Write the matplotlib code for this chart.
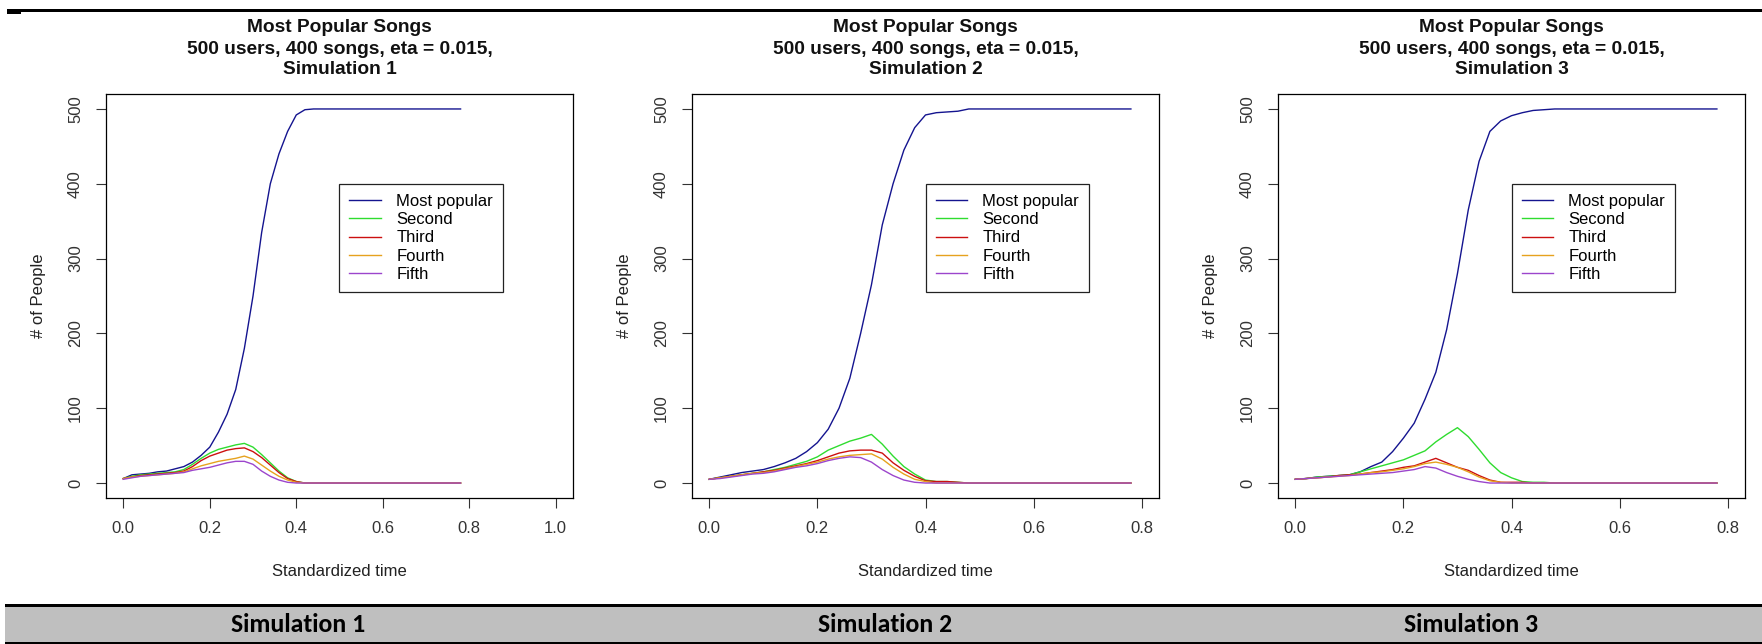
import matplotlib
matplotlib.use("Agg")
import matplotlib.pyplot as plt
from matplotlib import font_manager
from matplotlib.patches import Rectangle

# figure size in pixels
W, H = 1762, 644

# time grids (standardized time)
t1 = [0, .02, .04, .06, .08, .10, .12, .14, .16, .18, .20, .22, .24, .26, .28,
      .30, .32, .34, .36, .38, .40, .42, .44, .78]
t2 = [0, .02, .04, .06, .08, .10, .12, .14, .16, .18, .20, .22, .24, .26, .28,
      .30, .32, .34, .36, .38, .40, .42, .44, .46, .48, .78]
t3 = t2

# simulation 1
blue1 = [6, 11, 12, 13, 15, 16, 19, 22, 28, 37, 48, 68, 92, 125, 180, 250, 335, 400, 440, 470, 492, 499, 500, 500]
green1 = [6, 9, 11, 12, 13, 14, 15, 18, 25, 33, 40, 45, 48, 51, 53, 48, 38, 27, 16, 7, 2, 0, 0, 0]
red1 = [6, 8, 10, 11, 12, 13, 14, 16, 22, 30, 36, 40, 44, 46, 47, 42, 34, 24, 14, 6, 2, 0, 0, 0]
orange1 = [6, 8, 9, 10, 11, 12, 13, 15, 19, 23, 26, 29, 31, 33, 36, 32, 24, 16, 9, 4, 1, 0, 0, 0]
purple1 = [5, 7, 9, 10, 11, 12, 13, 14, 17, 19, 21, 24, 27, 29, 29, 25, 16, 9, 4, 1, 0, 0, 0, 0]

# simulation 2
blue2 = [5, 8, 11, 14, 16, 18, 22, 27, 33, 42, 54, 72, 100, 140, 200, 265, 345, 400, 445, 475, 492, 495, 496, 497, 500, 500]
green2 = [5, 7, 9, 11, 13, 15, 18, 21, 25, 29, 35, 44, 50, 56, 60, 65, 52, 36, 22, 12, 4, 2, 2, 1, 0, 0]
red2 = [5, 7, 9, 11, 13, 15, 17, 20, 23, 26, 30, 35, 40, 43, 44, 44, 40, 27, 17, 9, 3, 2, 2, 1, 0, 0]
orange2 = [5, 7, 9, 11, 13, 14, 16, 19, 22, 25, 28, 32, 35, 37, 38, 39, 32, 21, 12, 5, 2, 0, 0, 0, 0, 0]
purple2 = [5, 6, 8, 10, 12, 13, 15, 18, 21, 23, 26, 30, 33, 35, 34, 28, 18, 10, 4, 1, 0, 0, 0, 0, 0, 0]

# simulation 3
blue3 = [5, 6, 8, 9, 10, 11, 15, 22, 28, 42, 60, 80, 112, 148, 205, 280, 365, 430, 470, 484, 491, 495, 498, 499, 500, 500]
green3 = [5, 6, 8, 9, 10, 11, 15, 19, 23, 27, 31, 37, 43, 55, 65, 74, 62, 45, 27, 14, 7, 2, 1, 1, 0, 0]
red3 = [5, 6, 7, 8, 10, 11, 12, 14, 16, 18, 21, 23, 28, 33, 27, 21, 17, 10, 4, 1, 1, 1, 0, 0, 0, 0]
orange3 = [5, 6, 7, 8, 9, 10, 12, 14, 15, 17, 19, 22, 26, 28, 25, 21, 15, 8, 3, 1, 0, 0, 0, 0, 0, 0]
purple3 = [5, 6, 7, 8, 9, 10, 11, 12, 13, 14, 16, 18, 22, 20, 14, 9, 5, 2, 0, 0, 0, 0, 0, 0, 0, 0]

labels = ["Most popular", "Second", "Third", "Fourth", "Fifth"]
colors = ["#14148f", "#2fdc2f", "#cc1010", "#e6a21e", "#9c45cc"]
sims = ["Simulation 1", "Simulation 2", "Simulation 3"]
xticks_list = [[0.0, 0.2, 0.4, 0.6, 0.8, 1.0], [0.0, 0.2, 0.4, 0.6, 0.8], [0.0, 0.2, 0.4, 0.6, 0.8]]
xmax_list = [1.0, 0.8, 0.8]
legend_x = [0.5, 0.4, 0.4]

panels = [
    (t1, [blue1, green1, red1, orange1, purple1]),
    (t2, [blue2, green2, red2, orange2, purple2]),
    (t3, [blue3, green3, red3, orange3, purple3]),
]

names = {f.name for f in font_manager.fontManager.ttflist}
band_font = "Carlito" if "Carlito" in names else "Lato"

plt.rcParams["font.family"] = ["Liberation Sans", "DejaVu Sans"]
plt.rcParams["font.size"] = 12

fig = plt.figure(figsize=(W / 100, H / 100), dpi=100)


def box(x, y, w, h):
    # pixel box (top-left origin) -> figure fraction
    return [x / W, 1 - (y + h) / H, w / W, h / H]


# table rules and header band
fig.add_artist(Rectangle((7 / W, 1 - 11.5 / H), 1 - 7 / W, 2.5 / H, transform=fig.transFigure,
                         facecolor="black", edgecolor="none"))
fig.add_artist(Rectangle((7 / W, 1 - 14 / H), 14 / W, 4 / H, transform=fig.transFigure,
                         facecolor="black", edgecolor="none"))
fig.add_artist(Rectangle((5 / W, 1 - 642 / H), 1 - 5 / W, 36 / H, transform=fig.transFigure,
                         facecolor="#bfbfbf", edgecolor="none"))
fig.add_artist(Rectangle((5 / W, 1 - 607 / H), 1 - 5 / W, 3 / H, transform=fig.transFigure,
                         facecolor="black", edgecolor="none"))
fig.add_artist(Rectangle((5 / W, 1 - 643.5 / H), 1 - 5 / W, 1.5 / H, transform=fig.transFigure,
                         facecolor="black", edgecolor="none"))

band_x = [298, 885, 1471]

for i, (t, series) in enumerate(panels):
    left = 106 + 586 * i
    ax = fig.add_axes(box(left, 94, 467, 404))
    for vals, c, lab in zip(series, colors, labels):
        ax.plot(t, vals, color=c, lw=1.0, label=lab)
    xm = xmax_list[i]
    ax.set_xlim(-0.04 * xm, 1.04 * xm)
    ax.set_ylim(-20, 520)
    ax.set_xticks(xticks_list[i])
    ax.set_xticklabels([f"{v:.1f}" for v in xticks_list[i]])
    ax.set_yticks([0, 100, 200, 300, 400, 500])
    ax.set_yticklabels(["0", "100", "200", "300", "400", "500"], rotation=90, va="center")
    ax.tick_params(direction="out", length=7.5, width=0.8, colors="#333333",
                   labelsize=12, pad=9)
    for sp in ax.spines.values():
        sp.set_color("black")
        sp.set_linewidth(0.9)
    ax.set_xlabel("Standardized time", fontsize=12, color="#222222", labelpad=20)
    ax.set_ylabel("# of People", fontsize=12, color="#222222", labelpad=16)

    leg = ax.legend(loc="upper left", bbox_to_anchor=(legend_x[i], 400),
                    bbox_transform=ax.transData, fancybox=False, framealpha=1,
                    edgecolor="#222222", fontsize=12, borderpad=0.6, handlelength=1.9,
                    handletextpad=0.9, labelspacing=0.2, borderaxespad=0)
    leg.get_frame().set_linewidth(0.9)

    cx = left + 467 / 2
    title_lines = ["Most Popular Songs", "500 users, 400 songs, eta = 0.015,", sims[i]]
    for k, line in enumerate(title_lines):
        fig.text(cx / W, 1 - (28 + 21 * k) / H, line, ha="center", va="center",
                 fontsize=13.8, fontweight="bold", color="#111111")

    fig.text(band_x[i] / W, 1 - 625 / H, sims[i], ha="center", va="center",
             fontsize=18.5, fontweight="bold", family=[band_font, "DejaVu Sans"])

fig.savefig("out.png", dpi=100)
